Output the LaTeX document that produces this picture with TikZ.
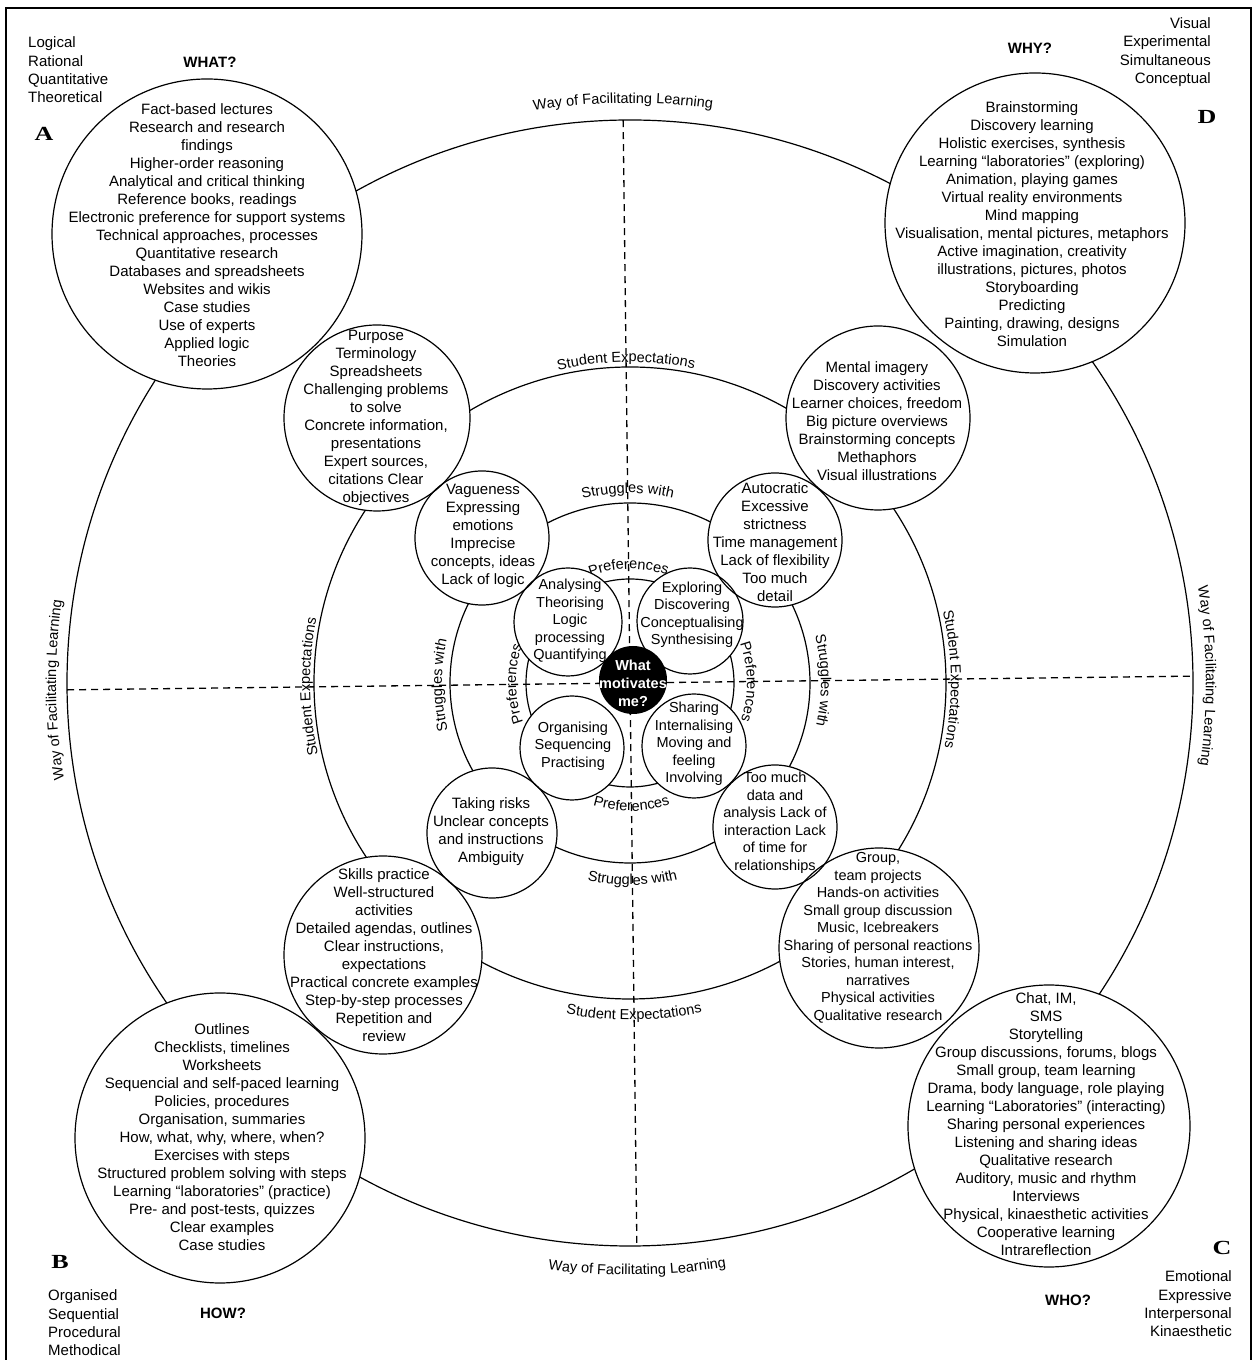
\documentclass[tikz,border=0pt]{standalone}
\usepackage{fontspec}
\setmainfont{Liberation Sans}
\newfontfamily\letterfont{Liberation Serif}
\usetikzlibrary{decorations.text,calc}

\begin{document}
\begin{tikzpicture}[x=1pt,y=1pt,
  ring/.style={draw, circle, line width=1.2pt, inner sep=0pt},
  satline/.style={draw, circle, line width=1.2pt, inner sep=0pt},
  body/.style={align=center, inner sep=0pt, font=\fontsize{15}{18}\selectfont},
  smallbody/.style={align=center, inner sep=0pt, font=\fontsize{14.5}{17.5}\selectfont},
  corner/.style={inner sep=0pt, font=\fontsize{15}{18.3}\selectfont},
  question/.style={inner sep=0pt, font=\fontsize{15}{18}\selectfont\bfseries},
  quadletter/.style={inner sep=0pt, font=\fontsize{20}{20}\selectfont\letterfont\bfseries},
  dashline/.style={line width=1.3pt, dash pattern=on 7pt off 5pt},
  ringlabel/.style={decorate, decoration={text along path, text align=center,
      text={|\fontsize{14.5}{17}\selectfont|#1}}},
]
\useasboundingbox (0,0) rectangle (1257,1360);

% frame
\draw[line width=2pt] (6,-5) -- (6,1352) -- (1251,1352) -- (1251,-5);

% concentric rings
\coordinate (O) at (630,677);
\node[ring, minimum size=1126pt] (outer) at (O) {};
\node[ring, minimum size=632pt] (expect) at (O) {};
\node[ring, minimum size=360pt] (struggle) at (O) {};
\node[ring, minimum size=208pt] (prefer) at (O) {};

% quadrant axes
\coordinate (dN) at ($(O)+(90.7:563)$);
\coordinate (dS) at ($(O)+(270.7:563)$);
\coordinate (dW) at ($(O)+(180.7:563)$);
\coordinate (dE) at ($(O)+(0.7:563)$);
\draw[dashline] (dN) -- (dS);
\draw[dashline] (dW) -- (dE);

% ring labels
\begin{scope}[shift={(O)}, rotate=0.7]
  \path[ringlabel=Way of Facilitating Learning] (110:580) arc[start angle=110, end angle=70, radius=580];
  \path[ringlabel=Way of Facilitating Learning] (250:592) arc[start angle=250, end angle=290, radius=592];
  \path[ringlabel=Way of Facilitating Learning] (200:574) arc[start angle=200, end angle=160, radius=574];
  \path[ringlabel=Way of Facilitating Learning] (20:576) arc[start angle=20, end angle=-20, radius=576];
  \path[ringlabel=Student Expectations] (120:321) arc[start angle=120, end angle=60, radius=321];
  \path[ringlabel=Student Expectations] (240:337) arc[start angle=240, end angle=300, radius=337];
  \path[ringlabel=Student Expectations] (210:320) arc[start angle=210, end angle=150, radius=320];
  \path[ringlabel=Student Expectations] (30:321) arc[start angle=30, end angle=-30, radius=321];
  \path[ringlabel=Struggles with] (135:190) arc[start angle=135, end angle=45, radius=190];
  \path[ringlabel=Struggles with] (225:202) arc[start angle=225, end angle=315, radius=202];
  \path[ringlabel=Struggles with] (225:188) arc[start angle=225, end angle=135, radius=188];
  \path[ringlabel=Struggles with] (45:191) arc[start angle=45, end angle=-45, radius=191];
  \path[ringlabel=Preferences] (150:114) arc[start angle=150, end angle=30, radius=114];
  \path[ringlabel=Preferences] (210:128) arc[start angle=210, end angle=330, radius=128];
  \path[ringlabel=Preferences] (240:114) arc[start angle=240, end angle=120, radius=114];
  \path[ringlabel=Preferences] (60:117) arc[start angle=60, end angle=-60, radius=117];
\end{scope}

% satellite circles: white discs first, outlines after
\foreach \nm/\cx/\cy/\r in {A/207/1126/155, D/1035/1137/150, B/220/222/145, C/1049/234/141,
    mTL/377/942/93, mTR/878/942/92, mBL/383/405/99, mBR/879/412/100,
    sTL/482/822/67, sTR/775/820/67, sBL/492/527/65, sBR/775/533/62,
    pTL/568/738/54, pTR/690/739/53, pBL/572/612/52, pBR/694/614/52}
  \fill[white] (\cx,\cy) circle (\r);
\foreach \nm/\cx/\cy/\r in {A/207/1126/155, D/1035/1137/150, B/220/222/145, C/1049/234/141,
    mTL/377/942/93, mTR/878/942/92, mBL/383/405/99, mBR/879/412/100,
    sTL/482/822/67, sTR/775/820/67, sBL/492/527/65, sBR/775/533/62,
    pTL/568/738/54, pTR/690/739/53, pBL/572/612/52, pBR/694/614/52}
  \node[satline, minimum size=2*\r pt] (\nm) at (\cx,\cy) {};

% quadrant circles
\node[body] (A-text) at (207,1125) {Fact-based lectures\\Research and research\\findings\\Higher-order reasoning\\Analytical and critical thinking\\Reference books, readings\\Electronic preference for support systems\\Technical approaches, processes\\Quantitative research\\Databases and spreadsheets\\Websites and wikis\\Case studies\\Use of experts\\Applied logic\\Theories};
\node[body] (D-text) at (1032,1136) {Brainstorming\\Discovery learning\\Holistic exercises, synthesis\\Learning “laboratories” (exploring)\\Animation, playing games\\Virtual reality environments\\Mind mapping\\Visualisation, mental pictures, metaphors\\Active imagination, creativity\\illustrations, pictures, photos\\Storyboarding\\Predicting\\Painting, drawing, designs\\Simulation};
\node[body] (B-text) at (222,223) {Outlines\\Checklists, timelines\\Worksheets\\Sequencial and self-paced learning\\Policies, procedures\\Organisation, summaries\\How, what, why, where, when?\\Exercises with steps\\Structured problem solving with steps\\Learning “laboratories” (practice)\\Pre- and post-tests, quizzes\\Clear examples\\Case studies};
\node[body] (C-text) at (1046,236) {Chat, IM,\\SMS\\Storytelling\\Group discussions, forums, blogs\\Small group, team learning\\Drama, body language, role playing\\Learning “Laboratories” (interacting)\\Sharing personal experiences\\Listening and sharing ideas\\Qualitative research\\Auditory, music and rhythm\\Interviews\\Physical, kinaesthetic activities\\Cooperative learning\\Intrareflection};

% student expectation circles
\node[body] (mTL-text) at (376,942) {Purpose\\Terminology\\Spreadsheets\\Challenging problems\\to solve\\Concrete information,\\presentations\\Expert sources,\\citations Clear\\objectives};
\node[body] (mTR-text) at (877,939) {Mental imagery\\Discovery activities\\Learner choices, freedom\\Big picture overviews\\Brainstorming concepts\\Methaphors\\Visual illustrations};
\node[body] (mBL-text) at (384,405) {Skills practice\\Well-structured\\activities\\Detailed agendas, outlines\\Clear instructions,\\expectations\\Practical concrete examples\\Step-by-step processes\\Repetition and\\review};
\node[smallbody] (mBR-text) at (878,422) {Group,\\team projects\\Hands-on activities\\Small group discussion\\Music, Icebreakers\\Sharing of personal reactions\\Stories, human interest,\\narratives\\Physical activities\\Qualitative research};

% struggle circles
\node[body] (sTL-text) at (483,824) {Vagueness\\Expressing\\emotions\\Imprecise\\concepts, ideas\\Lack of logic};
\node[body] (sTR-text) at (775,818) {Autocratic\\Excessive\\strictness\\Time management\\Lack of flexibility\\Too much\\detail};
\node[body] (sBL-text) at (491,528) {Taking risks\\Unclear concepts\\and instructions\\Ambiguity};
\node[smallbody] (sBR-text) at (775,537) {Too much\\data and\\analysis Lack of\\interaction Lack\\of time for\\relationships};

% preference circles
\node[smallbody] (pTL-text) at (570,739) {Analysing\\Theorising\\Logic\\processing\\Quantifying};
\node[smallbody] (pTR-text) at (692,745) {Exploring\\Discovering\\Conceptualising\\Synthesising};
\node[smallbody] (pBL-text) at (573,614) {Organising\\Sequencing\\Practising};
\node[smallbody] (pBR-text) at (694,616) {Sharing\\Internalising\\Moving and\\feeling\\Involving};

% centre
\node[circle, fill=black, minimum size=68pt, inner sep=0pt] (core) at (633,680) {};
\node[align=center, inner sep=0pt, text=white, font=\fontsize{14.5}{18}\selectfont\bfseries] (core-text) at (633,677) {What\\motivates\\me?};

% corner captions
\node[corner, anchor=west, align=left] (A-traits) at (28,1290) {Logical\\Rational\\Quantitative\\Theoretical};
\node[question] (A-q) at (210,1298) {WHAT?};
\node[quadletter] (A-letter) at (44,1226) {\scalebox{1.3}[1]{A}};

\node[corner, anchor=east, align=right] (D-traits) at (1211,1308) {Visual\\Experimental\\Simultaneous\\Conceptual};
\node[question] (D-q) at (1030,1312) {WHY?};
\node[quadletter] (D-letter) at (1207,1243) {\scalebox{1.3}[1]{D}};

\node[corner, anchor=west, align=left] (B-traits) at (48,37) {Organised\\Sequential\\Procedural\\Methodical};
\node[question] (B-q) at (223,47) {HOW?};
\node[quadletter] (B-letter) at (60,98) {\scalebox{1.3}[1]{B}};

\node[corner, anchor=east, align=right] (C-traits) at (1232,56) {Emotional\\Expressive\\Interpersonal\\Kinaesthetic};
\node[question] (C-q) at (1068,60) {WHO?};
\node[quadletter] (C-letter) at (1222,112) {\scalebox{1.3}[1]{C}};
\end{tikzpicture}
\end{document}
